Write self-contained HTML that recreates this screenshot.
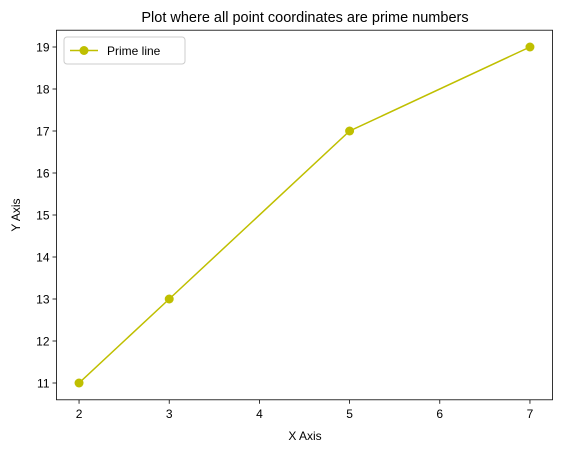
<!DOCTYPE html>
<html><head><meta charset="utf-8"><style>
body{margin:0;background:#fff;}
svg text{font-family:"Liberation Sans","DejaVu Sans",sans-serif;fill:#000;}
</style></head><body>
<svg id="chart" width="563" height="453" xmlns="http://www.w3.org/2000/svg">
<rect width="563" height="453" fill="#fff"/>
<text x="305" y="22" font-size="14.5" text-anchor="middle">Plot where all point coordinates are prime numbers</text>
<g id="axes"></g>
<text x="305" y="440" font-size="12" text-anchor="middle">X Axis</text>
<text x="20" y="215" font-size="12" text-anchor="middle" transform="rotate(-90 20 215)">Y Axis</text>
</svg>
<script>
const xValues=[2,3,5,7];
const yValues=[11,13,17,19];
const xTicks=[2,3,4,5,6,7];
const yTicks=[11,12,13,14,15,16,17,18,19];
const seriesName="Prime line";
const NS="http://www.w3.org/2000/svg";
const L=56.5,R=552.5,T=30.2,B=399.8;
const x0=1.75,x1=7.25,y0=10.6,y1=19.4;
function sx(v){return L+(v-x0)/(x1-x0)*(R-L);}
function sy(v){return B-(v-y0)/(y1-y0)*(B-T);}
const g=document.getElementById('axes');
function mk(t,a){const e=document.createElementNS(NS,t);for(const k in a)e.setAttribute(k,a[k]);g.appendChild(e);return e;}
xTicks.forEach(v=>{
 const l=mk('line',{x1:sx(v),x2:sx(v),y1:B,y2:B+4,stroke:'#000','stroke-width':0.8});
 
 
 const t=mk('text',{x:sx(v),y:B+18,'font-size':12,'text-anchor':'middle'});t.textContent=v;
 
 
});
yTicks.forEach(v=>{
 const l=mk('line',{x1:L-4,x2:L,y1:sy(v),y2:sy(v),stroke:'#000','stroke-width':0.8});
 
 
 const t=mk('text',{x:L-7,y:sy(v)+4.5,'font-size':12,'text-anchor':'end'});t.textContent=v;
 
 
});
const pts=xValues.map((v,i)=>sx(v)+','+sy(yValues[i])).join(' ');
const pl=mk('polyline',{points:pts,fill:'none',stroke:'#bfbf00','stroke-width':1.5});


xValues.forEach((v,i)=>{
 const c=mk('circle',{cx:sx(v),cy:sy(yValues[i]),r:4.5,fill:'#bfbf00'});
 
 
});
const fr=mk('rect',{x:L,y:T,width:R-L,height:B-T,fill:'none',stroke:'#000','stroke-width':0.8});


const lg=mk('rect',{x:64,y:37,width:121,height:27,rx:3,fill:'#fff',stroke:'#ccc','stroke-width':1});


const ll=mk('line',{x1:70,x2:98,y1:50.5,y2:50.5,stroke:'#bfbf00','stroke-width':1.5});


const lc=mk('circle',{cx:84,cy:50.5,r:4.5,fill:'#bfbf00'});


const lt=mk('text',{x:107,y:55,'font-size':12});lt.textContent=seriesName;


</script>
</body></html>
